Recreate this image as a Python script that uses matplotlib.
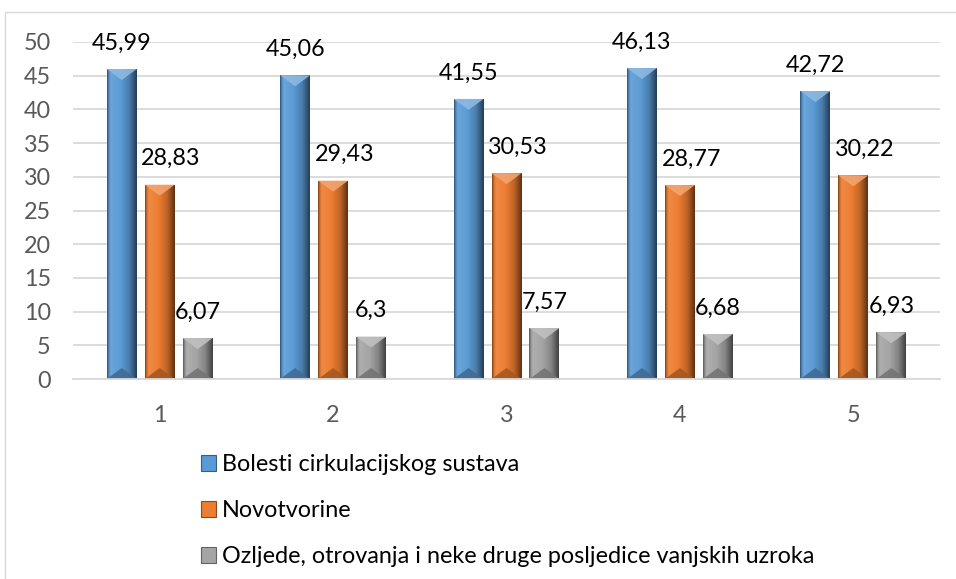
import numpy as np
import matplotlib
matplotlib.use("Agg")
import matplotlib.pyplot as plt
from matplotlib.patches import Rectangle, Polygon
from matplotlib.colors import to_rgb, LinearSegmentedColormap

plt.rcParams['font.family'] = ['Lato', 'DejaVu Sans']

categories = ['1', '2', '3', '4', '5']
series_names = ['Bolesti cirkulacijskog sustava', 'Novotvorine',
                'Ozljede, otrovanja i neke druge posljedice vanjskih uzroka']
bolesti = [45.99, 45.06, 41.55, 46.13, 42.72]
novotvorine = [28.83, 29.43, 30.53, 28.77, 30.22]
ozljede = [6.07, 6.3, 7.57, 6.68, 6.93]
yticks = [0, 5, 10, 15, 20, 25, 30, 35, 40, 45, 50]

series = [bolesti, novotvorine, ozljede]
colors = ['#5b9bd5', '#ed7d31', '#a5a5a5']

FS = 16.8
W, H = 956, 579
fig = plt.figure(figsize=(W / 100, H / 100), dpi=100)
# outer chart frame (right and bottom edges fall outside the image)
fig.patches.append(Rectangle((5 / W, -0.1), 1.2, 1.1 - 12 / H, transform=fig.transFigure,
                             fill=False, edgecolor='#d9d9d9', linewidth=1.0))

ax = fig.add_axes([73 / W, 1 - 379 / H, (940 - 73) / W, (379 - 42) / H])
ax.set_xlim(-0.5, 4.5)
ax.set_ylim(0, 50)
ax.set_yticks(yticks)
ax.grid(axis='y', color='#d9d9d9', linewidth=1.3, zorder=0)
ax.set_axisbelow(True)
for s in ['left', 'right', 'top']:
    ax.spines[s].set_visible(False)
ax.spines['bottom'].set_color('#d9d9d9')
ax.spines['bottom'].set_linewidth(1.3)
ax.tick_params(axis='both', length=0, labelsize=FS, labelcolor='#595959')
ax.tick_params(axis='y', pad=16)
ax.tick_params(axis='x', pad=19)

x = np.arange(len(categories))
bw = 0.173
step = 0.219
offsets = [-step, 0, step]
label_dx = [0.0, 0.065, 0.0]


def shade(c, f):
    r = np.array(to_rgb(c))
    if f >= 1:
        return tuple(r + (1 - r) * (f - 1))
    return tuple(r * f)


px_y = 50 / 337.0
for si, (vals, col) in enumerate(zip(series, colors)):
    bars = ax.bar(x + offsets[si], vals, width=bw, color=col, zorder=2,
                  label=series_names[si])
    cmap = LinearSegmentedColormap.from_list(
        'g%d' % si,
        [(0.0, shade(col, 0.55)), (0.06, shade(col, 0.9)), (0.12, shade(col, 1.1)),
         (0.45, shade(col, 1.0)), (0.75, shade(col, 0.8)), (1.0, shade(col, 0.4))])
    grad = np.linspace(0, 1, 64).reshape(1, -1)
    for b, v in zip(bars, vals):
        bx, by, bwid, bh = b.get_x(), b.get_y(), b.get_width(), b.get_height()
        im = ax.imshow(grad, extent=[bx, bx + bwid, by, by + bh], aspect='auto',
                       cmap=cmap, zorder=2.1, interpolation='bilinear')
        im.set_clip_path(b)
        d = 11 * px_y
        ax.add_patch(Polygon([(bx, by + bh), (bx + bwid, by + bh), (bx + bwid / 2, by + bh - d)],
                             closed=True, facecolor=shade(col, 1.3), edgecolor='none',
                             zorder=2.2, alpha=0.9))
        ax.add_patch(Polygon([(bx, by), (bx + bwid, by), (bx + bwid / 2, by + d)],
                             closed=True, facecolor=shade(col, 0.7), edgecolor='none',
                             zorder=2.2, alpha=0.9))
        ax.annotate(f"{v:g}".replace('.', ','), (bx + bwid / 2 + label_dx[si], v),
                    xytext=(0, 26 * 0.72), textcoords='offset points',
                    ha='center', va='center', fontsize=FS, color='black', zorder=3)

ax.set_xlim(-0.5, 4.5)
ax.set_ylim(0, 50)
ax.set_xticks(x)
ax.set_xticklabels(categories)

handles = [Rectangle((0, 0), 1, 1, facecolor=c, edgecolor=shade(c, 0.6), linewidth=0.8)
           for c in colors]
fig.legend(handles, series_names, loc='upper left', bbox_to_anchor=(201 / W, 1 - 454 / H),
           frameon=False, fontsize=FS, handlelength=0.65, handleheight=0.65,
           handletextpad=0.25, labelspacing=1.08, borderaxespad=0, borderpad=0)

fig.savefig('out.png', dpi=100)
